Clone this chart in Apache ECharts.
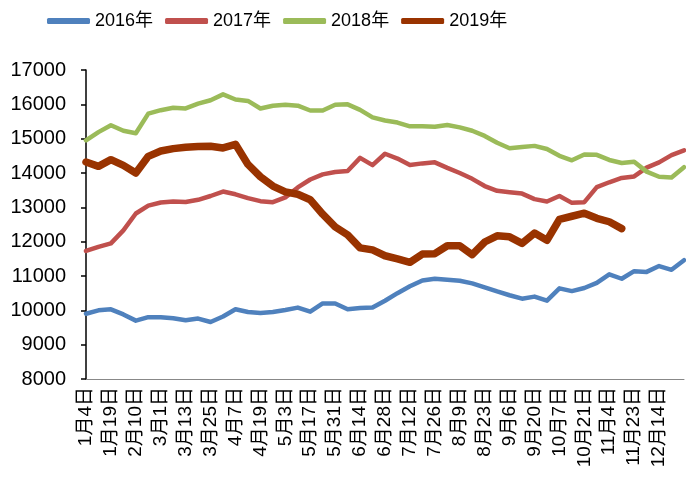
<!DOCTYPE html>
<html>
<head>
<meta charset="utf-8">
<script src="https://cdn.jsdelivr.net/npm/echarts@6/dist/echarts.min.js"></script>
<style>
html,body{margin:0;padding:0;background:#fff;}
#chart{width:686px;height:483px;}
</style>
</head>
<body>
<div id="chart"></div>
<script>
const categories = ['1月4日','1月11日','1月19日','1月26日','2月10日','2月22日','3月1日','3月7日','3月13日','3月19日',
  '3月25日','3月31日','4月7日','4月13日','4月19日','4月26日','5月3日','5月10日','5月17日','5月24日',
  '5月31日','6月7日','6月14日','6月21日','6月28日','7月5日','7月12日','7月19日','7月26日','8月2日',
  '8月9日','8月16日','8月23日','8月30日','9月6日','9月13日','9月20日','9月27日','10月7日','10月14日',
  '10月21日','10月28日','11月4日','11月13日','11月23日','12月3日','12月14日','12月21日','12月28日'];

const seriesNames = ['2016年','2017年','2018年','2019年'];

const s2016 = [9900,10000,10030,9880,9700,9800,9800,9770,9710,9760,
  9660,9820,10030,9950,9920,9950,10010,10080,9960,10200,
  10200,10030,10065,10080,10280,10500,10700,10870,10920,10890,
  10860,10785,10670,10550,10440,10340,10400,10280,10640,10560,
  10650,10800,11050,10920,11140,11120,11290,11180,11460];

const s2017 = [11730,11850,11950,12330,12820,13050,13140,13170,13155,13220,
  13330,13460,13380,13270,13180,13150,13290,13580,13810,13960,
  14030,14060,14440,14230,14560,14420,14230,14280,14310,14150,
  14000,13830,13620,13480,13440,13400,13240,13170,13330,13130,
  13150,13590,13730,13855,13900,14155,14310,14520,14660];

const s2018 = [14950,15190,15390,15230,15160,15730,15830,15900,15880,16020,
  16120,16290,16140,16100,15880,15960,15990,15960,15820,15820,
  15990,16000,15840,15620,15530,15470,15360,15360,15345,15400,
  15330,15230,15080,14880,14720,14760,14790,14700,14500,14370,
  14540,14530,14380,14290,14330,14040,13890,13870,14170];

const s2019 = [14320,14194,14388,14223,14000,14485,14640,14710,14750,14770,
  14780,14730,14835,14250,13890,13620,13450,13380,13220,12800,
  12430,12200,11820,11760,11590,11500,11400,11640,11650,11880,
  11880,11620,11990,12170,12140,11950,12250,12040,12650,12740,
  12830,12680,12580,12380,null,null,null,null,null];

const yMin = 8000, yMax = 17000, yStep = 1000;
const lastLabelIndex = 46;

const colors = ['#4F81BD','#C0504D','#9BBB59','#993300'];
const widths = [4.5, 4.5, 4.5, 7.5];
const allData = [s2016, s2017, s2018, s2019];
const FONT = "'Liberation Sans', Arial, 'Noto Sans CJK SC', sans-serif";

const chart = echarts.init(document.getElementById('chart'));
chart.setOption({
  animation: false,
  backgroundColor: '#fff',
  color: colors,
  legend: {
    data: seriesNames,
    left: 47, top: 12, padding: 0,
    icon: 'roundRect',
    itemWidth: 43, itemHeight: 6, itemGap: 12,
    textStyle: { fontSize: 18, color: '#000', fontFamily: FONT }
  },
  grid: { left: 86, right: 2, top: 70, bottom: 104 },
  xAxis: {
    type: 'category',
    data: categories,
    boundaryGap: false,
    axisLine: { lineStyle: { color: '#888', width: 1 } },
    axisTick: { show: false },
    axisLabel: {
      interval: function (idx) { return idx % 2 === 0 && idx <= lastLabelIndex; },
      rotate: 90, margin: 8, fontSize: 19, color: '#000', fontFamily: FONT
    }
  },
  yAxis: {
    type: 'value', min: yMin, max: yMax, interval: yStep,
    axisLine: { show: true, lineStyle: { color: '#000', width: 1.5 } },
    axisTick: { show: true, length: 5, lineStyle: { color: '#000', width: 1.5 } },
    splitLine: { show: false },
    axisLabel: { fontSize: 20, margin: 20, color: '#000', fontFamily: FONT,
      formatter: function (v) { return String(v); } }
  },
  series: seriesNames.map((n, k) => ({
    name: n, type: 'line', data: allData[k], symbol: 'none',
    lineStyle: { color: colors[k], width: widths[k], cap: 'round', join: 'round' },
    itemStyle: { color: colors[k] }
  }))
});
</script>
</body>
</html>
